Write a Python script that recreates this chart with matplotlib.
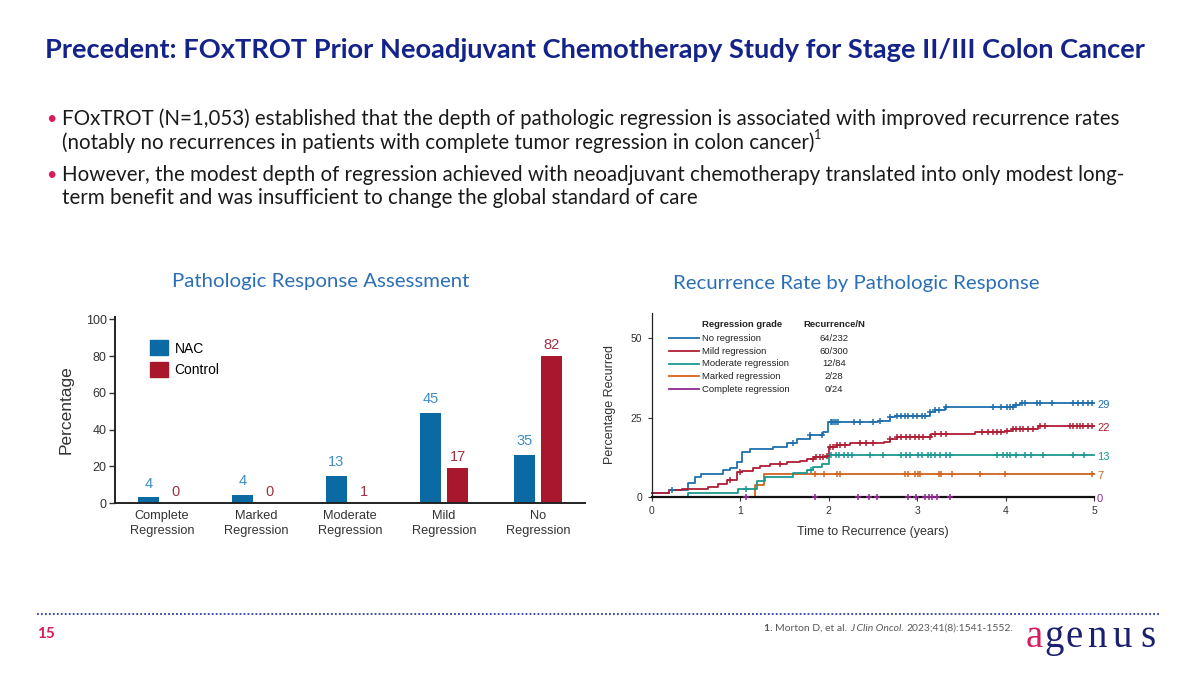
import matplotlib.pyplot as plt
from matplotlib.patches import Patch
from matplotlib.lines import Line2D
import numpy as np

NAVY = '#14238a'
PINK = '#d81b60'
SUB_BLUE = '#2c6fb7'
NARROW = ['Liberation Sans Narrow', 'Liberation Sans', 'DejaVu Sans']

# ---- bar chart data (left) ----
categories = ['Complete\nRegression', 'Marked\nRegression', 'Moderate\nRegression',
              'Mild\nRegression', 'No\nRegression']
nac_bars = [3, 4.6, 14.5, 49, 26.3]
control_bars = [0, 0, 0, 18.9, 80.2]
nac_labels = ['4', '4', '13', '45', '35']
control_labels = ['0', '0', '1', '17', '82']

# ---- recurrence curves (right) ----
no_t = [0, 0.19, 0.41, 0.49, 0.56, 0.81, 0.88, 0.96, 1.02, 1.11, 1.37, 1.53, 1.64, 1.79, 1.94, 1.99,
        2.56, 2.69, 2.75, 3.14, 3.20, 3.31, 4.09, 4.16]
no_y = [1.2, 2.1, 4.2, 6.1, 7.2, 8.4, 9.0, 10.8, 14.0, 15.0, 15.8, 16.9, 18.2, 19.5, 20.4, 23.7,
        24.0, 25.1, 25.6, 26.7, 27.4, 28.4, 29.0, 29.5]
no_cens = [0.23, 1.60, 1.79, 1.92, 2.02, 2.04, 2.06, 2.08, 2.10, 2.28, 2.35, 2.50, 2.58, 2.69,
           2.77, 2.82, 2.86, 2.90, 2.95, 3.00, 3.05, 3.09, 3.14, 3.20, 3.24, 3.33, 3.86, 3.95,
           4.01, 4.05, 4.08, 4.12, 4.18, 4.22, 4.35, 4.39, 4.52, 4.76, 4.82, 4.87, 4.93, 4.97]

mild_t = [0, 0.19, 0.34, 0.64, 0.75, 0.85, 0.96, 1.02, 1.15, 1.22, 1.34, 1.53, 1.68, 1.75, 1.83,
          1.98, 2.00, 2.09, 2.24, 2.62, 2.69, 2.77, 3.16, 3.65, 3.99, 4.07, 4.36]
mild_y = [1.2, 2.1, 2.5, 3.1, 3.9, 5.4, 7.7, 8.2, 9.1, 9.8, 10.3, 10.8, 11.4, 11.9, 12.4,
          13.0, 15.6, 16.2, 17.0, 17.4, 18.2, 18.7, 19.7, 20.4, 20.9, 21.3, 22.4]
mild_cens = [0.88, 1.00, 1.45, 1.82, 1.86, 1.90, 1.94, 1.98, 2.01, 2.05, 2.09, 2.13, 2.18, 2.35,
             2.42, 2.50, 2.69, 2.77, 2.82, 2.87, 2.92, 2.97, 3.02, 3.07, 3.14, 3.20, 3.27, 3.33,
             3.73, 3.80, 3.85, 3.90, 3.95, 4.01, 4.08, 4.12, 4.16, 4.20, 4.25, 4.31, 4.39, 4.44,
             4.72, 4.76, 4.80, 4.84, 4.87, 4.93, 4.97]

mod_t = [0, 0.41, 0.98, 1.19, 1.28, 1.60, 1.75, 1.82, 1.92, 2.00]
mod_y = [0, 1.3, 2.3, 5.1, 6.1, 7.4, 8.4, 9.3, 10.3, 13.3]
mod_cens = [1.07, 1.80, 2.03, 2.08, 2.12, 2.17, 2.22, 2.26, 2.47, 2.61, 2.82, 2.87, 2.92, 3.01,
            3.05, 3.12, 3.16, 3.20, 3.26, 3.33, 3.37, 3.90, 3.97, 4.01, 4.05, 4.12, 4.22, 4.29,
            4.42, 4.76, 4.88]

marked_t = [0, 1.17, 1.27]
marked_y = [0, 3.6, 7.1]
marked_cens = [1.84, 1.95, 2.09, 2.13, 2.86, 2.90, 2.98, 3.01, 3.03, 3.24, 3.27, 3.39, 3.71,
               3.99, 4.97]

comp_t = [0]
comp_y = [0]
comp_cens = [1.07, 1.84, 2.33, 2.45, 2.55, 2.90, 2.99, 3.09, 3.13, 3.17, 3.22, 3.37]

groups = ['No regression', 'Mild regression', 'Moderate regression', 'Marked regression',
          'Complete regression']
rec_n = ['64/232', '60/300', '12/84', '2/28', '0/24']
end_labels = ['29', '22', '13', '7', '0']
colors = ['#1f6fae', '#b01e34', '#1b9890', '#d2651f', '#8e2a8e']

W, H = 1200, 675


def fx(px):
    return px / W


def fy(py):
    return 1 - py / H


fig = plt.figure(figsize=(12, 6.75), dpi=100)
renderer = fig.canvas.get_renderer()

# ---- slide header ----
fig.text(fx(45), fy(50), 'Precedent: FOxTROT Prior Neoadjuvant Chemotherapy Study for Stage II/III Colon Cancer',
         fontsize=19.6, fontweight='bold', color=NAVY, family='Lato', va='center')

bullet_lines = [
    (119, 'FOxTROT (N=1,053) established that the depth of pathologic regression is associated with improved recurrence rates', True),
    (143, '(notably no recurrences in patients with complete tumor regression in colon cancer)', False),
    (175, 'However, the modest depth of regression achieved with neoadjuvant chemotherapy translated into only modest long-', True),
    (198, 'term benefit and was insufficient to change the global standard of care', False),
]
for ypx, line, has_bullet in bullet_lines:
    if has_bullet:
        fig.text(fx(46), fy(ypx), '\u2022', fontsize=13, color=PINK, family='Lato', va='center')
    t = fig.text(fx(62), fy(ypx), line, fontsize=14.8, color='#1a1a1a', family='Lato', va='center')
    if line.startswith('(notably'):
        bb = t.get_window_extent(renderer)
        fig.text(bb.x1 / W, fy(ypx - 8), '1', fontsize=9, color='#1a1a1a',
                 family='Lato', va='center')

fig.text(fx(321), fy(282), 'Pathologic Response Assessment', fontsize=14.7, color=SUB_BLUE,
         family='Lato', ha='center', va='center')
fig.text(fx(856), fy(283), 'Recurrence Rate by Pathologic Response', fontsize=14.7, color=SUB_BLUE,
         family='Lato', ha='center', va='center')

# ---- left: bar chart ----
ax1 = fig.add_axes([fx(115), fy(503), (585 - 115) / W, (503 - 316.6) / H])
x = np.arange(len(categories))
off, bw = 0.145, 0.23
ax1.bar(x - off, nac_bars, bw, color='#0b69a3')
ax1.bar(x + off, control_bars, bw, color='#a8172b')
for xi, h, lab in zip(x, nac_bars, nac_labels):
    ax1.annotate(lab, (xi - off, h), xytext=(0, 5), textcoords='offset points', ha='center',
                 va='bottom', fontsize=10.5, color='#3d8ec6', family=NARROW)
for xi, h, lab in zip(x, control_bars, control_labels):
    ax1.annotate(lab, (xi + off, h), xytext=(0, 3), textcoords='offset points', ha='center',
                 va='bottom', fontsize=10.5, color='#a3303f', family=NARROW)
ax1.set_xlim(-0.5, 4.5)
ax1.set_ylim(0, 101.5)
ax1.set_yticks([0, 20, 40, 60, 80, 100])
ax1.set_xticks(x)
ax1.set_xticklabels(categories, fontsize=9.2, family=NARROW, color='#333333', linespacing=1.35)
ax1.tick_params(axis='x', length=0, pad=5)
ax1.tick_params(axis='y', length=4, width=1, labelsize=9, pad=2, colors='#333333')
for lab in ax1.get_yticklabels():
    lab.set_family(NARROW)
for s in ['top', 'right']:
    ax1.spines[s].set_visible(False)
for s in ['left', 'bottom']:
    ax1.spines[s].set_linewidth(1.4)
    ax1.spines[s].set_color('#222222')
ax1.set_ylabel('Percentage', fontsize=12.5, family=NARROW, color='#333333', labelpad=9)
ax1.legend(handles=[Patch(color='#0b69a3', label='NAC'), Patch(color='#a8172b', label='Control')],
           loc='upper left', bbox_to_anchor=(0.06, 0.91), frameon=False, borderpad=0,
           handlelength=1.3, handleheight=1.3, handletextpad=0.45, labelspacing=0.45,
           prop={'family': NARROW, 'size': 10})

# ---- right: recurrence curves ----
ax2 = fig.add_axes([fx(651.7), fy(496.7), (1094.3 - 651.7) / W, (496.7 - 313) / H])
curve_t = [no_t, mild_t, mod_t, marked_t, comp_t]
curve_y = [no_y, mild_y, mod_y, marked_y, comp_y]
curve_c = [no_cens, mild_cens, mod_cens, marked_cens, comp_cens]
for i in [4, 3, 2, 0, 1]:
    st, sy, c = curve_t[i], curve_y[i], colors[i]
    ax2.step(st + [5.0], sy + [sy[-1]], where='post', color=c, lw=1.3, clip_on=False, zorder=2)
    idx = np.searchsorted(st, curve_c[i], side='right') - 1
    ax2.plot(curve_c[i], np.array(sy)[idx], '+', color=c, ms=5, mew=1.1, clip_on=False, zorder=4)
    ax2.text(5.03, sy[-1] - 0.7, end_labels[i], color=c, fontsize=8, va='center', ha='left',
             family=NARROW)

# legend drawn as a small table
ax2.text(0.565, 54.3, 'Regression grade', fontsize=6.8, fontweight='bold', family=NARROW,
         va='center', color='#222222')
ax2.text(2.06, 54.3, 'Recurrence/N', fontsize=6.8, fontweight='bold', family=NARROW,
         va='center', ha='center', color='#222222')
for k, (g, rn, c) in enumerate(zip(groups, rec_n, colors)):
    yy = 50 - 4 * k
    ax2.plot([0.19, 0.53], [yy, yy], color=c, lw=1.3)
    ax2.text(0.57, yy, g, fontsize=6.8, family=NARROW, va='center', color='#222222')
    ax2.text(2.06, yy, rn, fontsize=6.8, family=NARROW, va='center', ha='center', color='#222222')

ax2.set_xlim(0, 5)
ax2.set_ylim(0, 58)
ax2.set_xticks([0, 1, 2, 3, 4, 5])
ax2.set_yticks([0, 25, 50])
ax2.tick_params(length=3, width=0.8, labelsize=7.5, colors='#333333', pad=4)
for lab in ax2.get_xticklabels() + ax2.get_yticklabels():
    lab.set_family(NARROW)
for s in ['top', 'right']:
    ax2.spines[s].set_visible(False)
ax2.spines['bottom'].set_linewidth(1.6)
ax2.spines['bottom'].set_color('#111111')
ax2.spines['bottom'].set_zorder(3)
ax2.spines['left'].set_linewidth(0.9)
ax2.spines['left'].set_color('#222222')
ax2.set_xlabel('Time to Recurrence (years)', fontsize=9, family=NARROW, color='#333333', labelpad=7)
ax2.set_ylabel('Percentage Recurred', fontsize=9, family=NARROW, color='#333333', labelpad=10)

# ---- footer ----
fig.add_artist(Line2D([fx(37), fx(1160)], [fy(614), fy(614)], transform=fig.transFigure,
                      color='#2b3fa0', lw=1.3, ls=(0, (1, 1.2))))
fig.text(fx(37), fy(634), '15', fontsize=11, fontweight='bold', color=PINK, family='Lato', va='center')

cite_parts = [('2023;41(8):1541-1552.', 'normal', 'normal'),
              ('J Clin Oncol. ', 'normal', 'italic'),
              ('Morton D, et al. ', 'normal', 'normal'),
              ('1. ', 'bold', 'normal')]
xr = 1013
for txt, wt, st in cite_parts:
    t = fig.text(fx(xr), fy(631), txt, fontsize=7.5, fontweight=wt, style=st, color='#595959',
                 family='Lato', ha='right', va='baseline')
    bb = t.get_window_extent(renderer)
    xr = bb.x0

logo_x = [1034, 1054, 1074, 1097, 1122, 1148]
for ch, lx in zip('agenus', logo_x):
    fig.text(fx(lx), fy(647), ch, fontsize=28, color=PINK if ch == 'a' else '#1a1f71',
             family='Liberation Serif', ha='center', va='baseline')

fig.savefig('out.png', dpi=100)
